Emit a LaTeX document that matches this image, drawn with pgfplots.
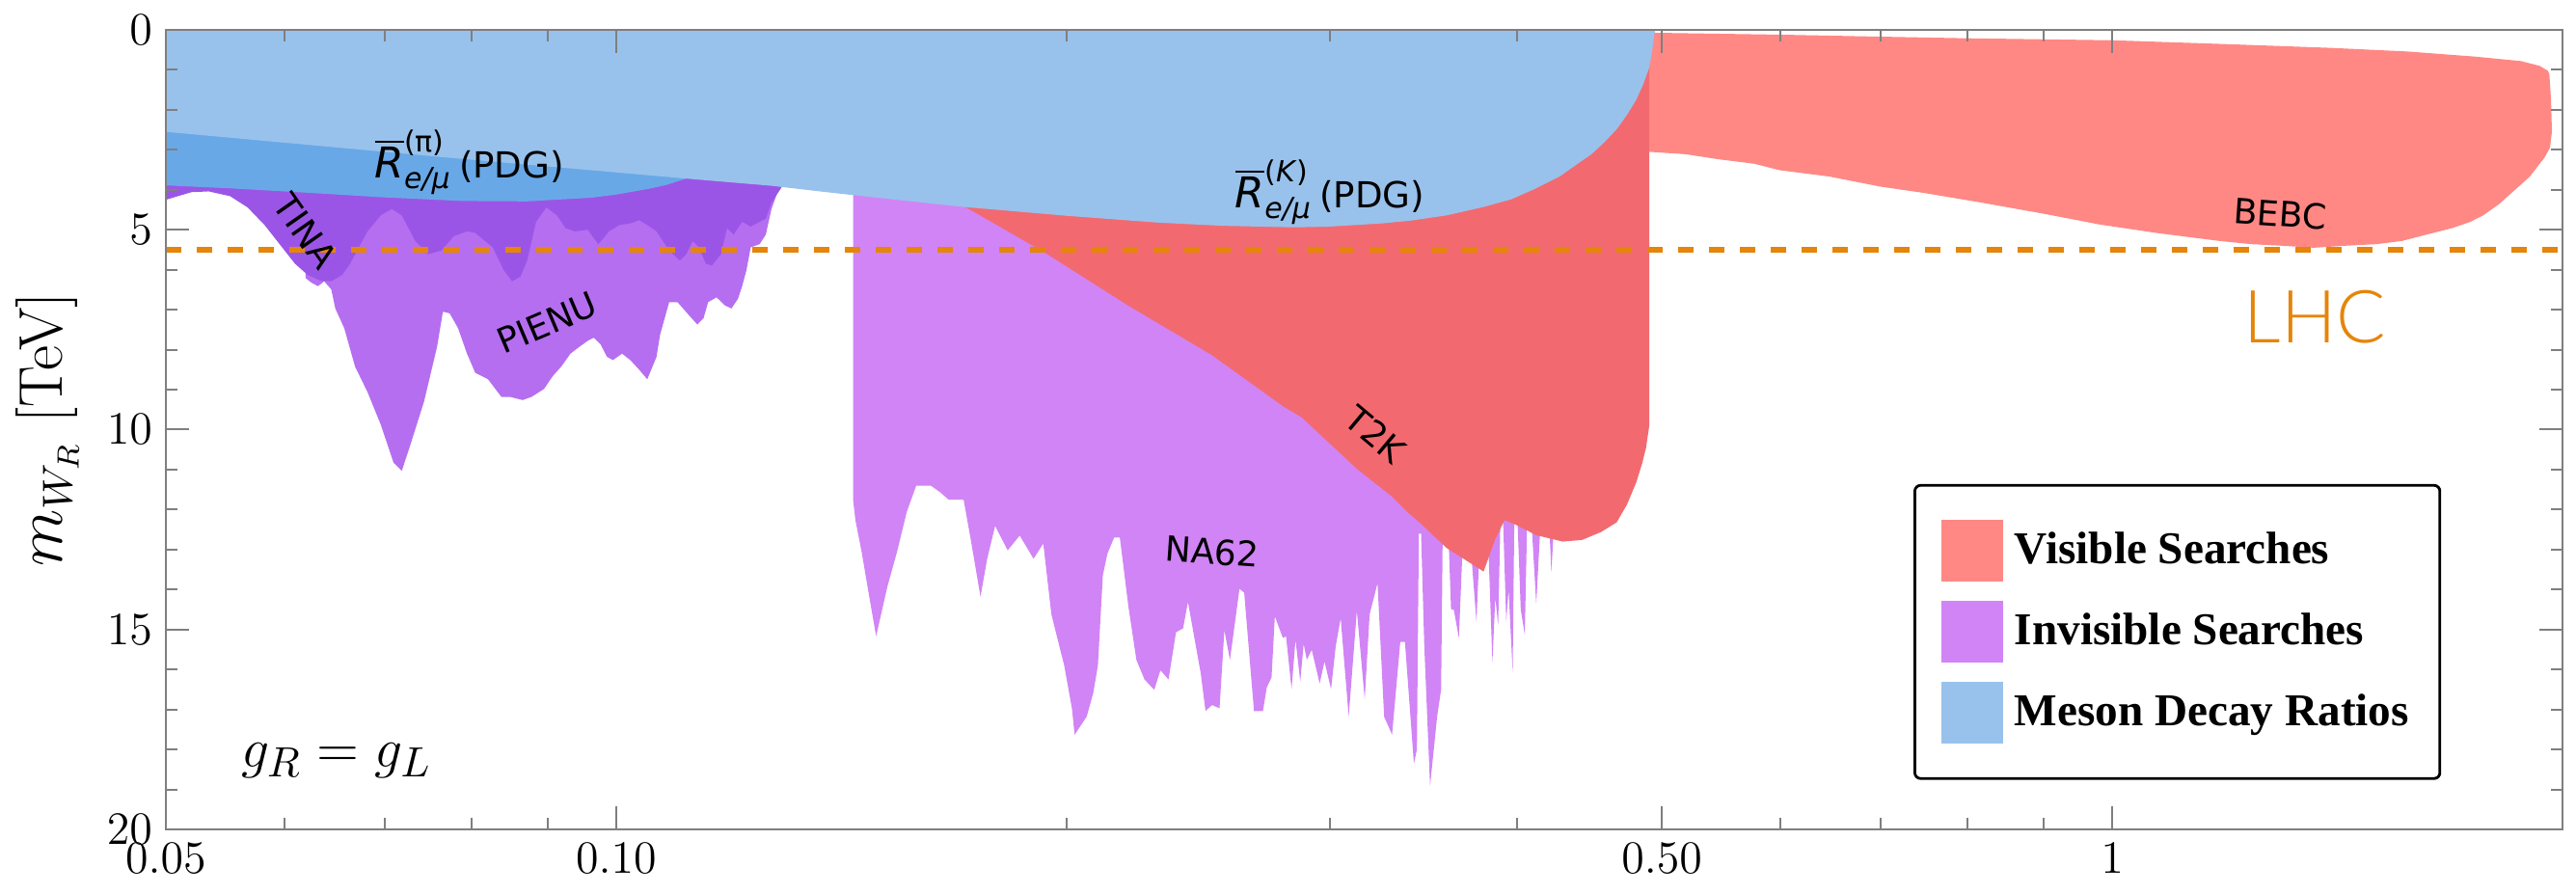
\documentclass[border=0pt]{standalone}
\usepackage{fontspec}
\newfontfamily\legfont{Liberation Serif}
\newfontfamily\lab{DejaVu Sans}
\newfontfamily\lhcfont{Lato Light}
\usepackage{pgfplots}
\pgfplotsset{compat=1.18}
\definecolor{bebc}{HTML}{FF8884}
\definecolor{t2k}{HTML}{F26A70}
\definecolor{na62}{HTML}{D184F5}
\definecolor{pienu}{HTML}{B56EF0}
\definecolor{tina}{HTML}{9B55E6}
\definecolor{pibl}{HTML}{69A8E7}
\definecolor{kbl}{HTML}{98C2EC}
\definecolor{lhc}{HTML}{E5850A}
\definecolor{axgray}{HTML}{7F7F7F}
\newcommand{\Rlab}[1]{{\lab\fontsize{11}{13}\selectfont$\overline{\hbox{\lab\itshape R}}^{\hbox{\lab\fontsize{7.5}{9}\selectfont #1}}_{\hbox{\lab\itshape\fontsize{7.5}{9}\selectfont e/μ}}$\,{\fontsize{9.3}{11}\selectfont(PDG)}}}
\begin{document}
\begin{tikzpicture}
\path[use as bounding box] (-43pt,-16.75pt) rectangle (624.75pt,215pt);
\begin{axis}[
 scale only axis, width=621.25pt, height=207.25pt,
 at={(0,0)}, anchor=south west,
 xmode=log, xmin=0.05, xmax=2,
 ymin=0, ymax=20, y dir=reverse,
 xtick={0.05,0.1,0.5,1}, xticklabels={$0.05$,$0.10$,$0.50$,$1$},
 minor xtick={0.06,0.07,0.08,0.09,0.2,0.3,0.4,0.6,0.7,0.8,0.9},
 ytick={0,5,10,15,20},
 minor ytick={1,2,3,4,6,7,8,9,11,12,13,14,16,17,18,19},
 tick align=inside, major tick length=6pt, minor tick length=3pt,
 every tick/.style={axgray, line width=0.5pt},
 axis line style={axgray, line width=0.6pt},
 ticklabel style={font=\fontsize{13}{15}\selectfont},
 axis on top,
 ylabel={$m_{W_R}$ [TeV]},
 ylabel style={at={(axis description cs:-0.0495,0.5)}, anchor=center, font=\fontsize{16}{18}\selectfont},
 legend cell align=left,
 legend style={at={(0.7292,0.432)}, anchor=north west, draw=black, line width=0.7pt, rounded corners=1.5pt,
   inner xsep=7pt, inner ysep=9pt, row sep=5pt, nodes={inner sep=1pt, text depth=0.15em},
   font=\legfont\bfseries\fontsize{11.8}{13}\selectfont},
 legend image code/.code={\fill[#1, draw=none, sharp corners] (0pt,-8pt) rectangle (16pt,8pt); \path (17.5pt,0pt);},
]
% BEBC
\addplot[fill=bebc, draw=none, forget plot] coordinates {
(0.4904,0.07) (0.60,0.12) (0.70,0.17) (0.80,0.21) (1.0,0.26) (1.2,0.36) (1.4,0.45) (1.575,0.54) (1.75,0.67) (1.876,0.78) (1.931,0.90) (1.955,1.02) (1.960,1.10) (1.965,1.74) (1.968,2.55) (1.962,2.95) (1.945,3.20) (1.931,3.35) (1.902,3.67) (1.849,4.08) (1.814,4.36) (1.770,4.64) (1.736,4.80) (1.687,4.96) (1.623,5.12) (1.562,5.28) (1.502,5.36) (1.431,5.40) (1.364,5.45) (1.299,5.40) (1.238,5.36) (1.1795,5.28) (1.0708,5.08) (0.9813,4.87) (0.9001,4.60) (0.8175,4.32) (0.7488,4.08) (0.6998,3.92) (0.6474,3.67) (0.5993,3.51) (0.5766,3.35) (0.5441,3.23) (0.5187,3.11) (0.4904,3.05)
} -- cycle;
% NA62
\addplot[fill=na62, draw=none, forget plot] coordinates {
(0.1440,0) (0.1440,11.75) (0.1445,12.26) (0.1459,13.05) (0.1474,14.03) (0.1492,15.17) (0.1518,13.93) (0.1541,13.05) (0.1564,12.06) (0.1587,11.40) (0.1623,11.40) (0.1647,11.57) (0.1668,11.75) (0.1707,11.75) (0.1726,12.75) (0.1752,14.18) (0.1770,13.24) (0.1792,12.41) (0.1827,13.02) (0.1861,12.65) (0.1901,13.23) (0.1930,12.85) (0.1954,14.62) (0.1993,15.90) (0.2017,16.99) (0.2025,17.63) (0.2063,17.18) (0.2084,16.59) (0.2099,15.90) (0.2115,13.64) (0.2130,13.10) (0.2152,12.70) (0.2171,12.70) (0.2200,14.43) (0.2227,15.76) (0.2255,16.25) (0.2289,16.51) (0.2311,16.02) (0.2340,16.25) (0.2367,15.07) (0.2393,14.97) (0.2411,14.31) (0.2435,15.21) (0.2459,16.10) (0.2477,17.04) (0.2502,16.89) (0.2531,16.97) (0.2550,15.02) (0.2572,15.76) (0.2610,13.98) (0.2629,14.08) (0.2669,17.04) (0.2706,17.04) (0.2722,16.45) (0.2742,16.20) (0.2756,14.67) (0.2790,15.21) (0.2804,15.17) (0.2828,16.49) (0.2845,15.26) (0.2866,16.30) (0.2881,15.36) (0.2895,15.76) (0.2917,15.51) (0.2953,16.35) (0.2975,15.80) (0.3005,16.49) (0.3027,15.41) (0.3050,14.72) (0.3088,17.18) (0.3127,14.53) (0.3165,16.74) (0.3189,14.62) (0.3228,13.84) (0.3261,17.18) (0.3301,17.63) (0.3343,15.31) (0.3367,15.31) (0.3414,18.36) (0.3430,18.0) (0.3440,12.6) (0.3452,12.6) (0.3469,15.41) (0.3500,18.91) (0.3538,17.18) (0.3560,16.5) (0.3568,12.8) (0.3600,12.6) (0.3615,14.5) (0.3630,14.5) (0.3659,15.21) (0.3681,12.8) (0.3727,13.0) (0.3745,14.0) (0.3759,14.81) (0.3775,13.2) (0.3829,13.0) (0.3853,15.82) (0.3870,14.2) (0.3887,14.9) (0.3900,12.3) (0.3916,12.2) (0.3936,14.8) (0.3950,14.0) (0.3975,16.06) (0.3985,12.3) (0.4004,12.3) (0.4024,14.5) (0.4049,15.13) (0.4063,12.4) (0.4094,12.5) (0.4121,14.37) (0.4145,12.6) (0.4207,12.6) (0.4218,13.57) (0.4232,12.6) (0.4250,12.0) (0.4250,0)
} -- cycle;
% T2K
\addplot[fill=t2k, draw=none, forget plot] coordinates {
(0.1697,0) (0.1697,4.35) (0.1934,5.57) (0.220,6.90) (0.250,8.13) (0.279,9.41) (0.2874,9.70) (0.3127,10.98) (0.330,11.67) (0.3384,12.08) (0.345,12.35) (0.359,12.96) (0.3801,13.55) (0.3868,12.76) (0.3926,12.26) (0.4004,12.40) (0.4121,12.64) (0.4292,12.80) (0.4422,12.76) (0.4554,12.56) (0.4664,12.32) (0.4738,11.88) (0.4808,11.31) (0.4852,10.83) (0.4880,10.45) (0.4904,9.9) (0.4904,0)
} -- cycle;
% PIENU
\addplot[fill=pienu, draw=none, forget plot] coordinates {
(0.0620,0) (0.0620,6.21) (0.0626,6.33) (0.0632,6.41) (0.0638,6.29) (0.0645,6.49) (0.0649,6.97) (0.0658,7.46) (0.0669,8.42) (0.0682,9.06) (0.0696,9.87) (0.0710,10.83) (0.0719,11.03) (0.0729,10.35) (0.0744,9.30) (0.0759,7.94) (0.0766,7.05) (0.0774,7.09) (0.0784,7.46) (0.0795,8.10) (0.0805,8.58) (0.0821,8.74) (0.0838,9.18) (0.0849,9.18) (0.0866,9.26) (0.0878,9.18) (0.0895,8.98) (0.0907,8.66) (0.0919,8.42) (0.0932,8.10) (0.0944,7.94) (0.0957,7.78) (0.0966,7.70) (0.0976,7.86) (0.0986,8.18) (0.0995,8.26) (0.1009,8.10) (0.1022,8.26) (0.1036,8.50) (0.1049,8.74) (0.1064,8.18) (0.1070,7.62) (0.1085,6.81) (0.1099,6.81) (0.1118,7.13) (0.1133,7.37) (0.1144,7.21) (0.1152,6.81) (0.1167,6.69) (0.1182,6.89) (0.1194,6.97) (0.1206,6.73) (0.1214,6.41) (0.1222,6.01) (0.1230,5.44) (0.1247,5.36) (0.1259,5.12) (0.1270,4.48) (0.1285,3.95) (0.1285,0)
} -- cycle;
% TINA
\addplot[fill=tina, draw=none, forget plot] coordinates {
(0.05,0) (0.05,4.25) (0.0520,4.06) (0.0534,4.04) (0.0552,4.16) (0.0567,4.44) (0.0582,4.88) (0.0598,5.44) (0.0610,5.85) (0.0622,6.13) (0.0634,6.27) (0.0645,6.29) (0.0656,6.13) (0.0664,5.85) (0.0673,5.44) (0.0682,5.04) (0.0696,4.64) (0.0708,4.48) (0.0719,4.64) (0.0734,5.28) (0.0749,5.61) (0.0764,5.52) (0.0779,5.16) (0.0795,5.04) (0.0805,5.08) (0.0827,5.44) (0.0841,6.01) (0.0852,6.29) (0.0863,6.17) (0.0872,5.77) (0.0884,4.80) (0.0898,4.44) (0.0913,4.64) (0.0925,4.96) (0.0938,5.04) (0.0957,5.00) (0.0973,5.36) (0.0989,5.04) (0.1005,4.88) (0.1022,4.84) (0.1036,4.76) (0.1049,4.88) (0.1064,5.04) (0.1085,5.52) (0.1103,5.77) (0.1114,5.61) (0.1125,5.28) (0.1136,5.44) (0.1148,5.85) (0.1159,5.89) (0.1175,5.61) (0.1186,4.96) (0.1198,5.12) (0.1214,4.80) (0.1230,4.92) (0.1247,4.80) (0.1259,4.72) (0.1270,4.32) (0.1292,3.90) (0.1292,0)
} -- cycle;
% pi ratio
\addplot[fill=pibl, draw=none, forget plot] coordinates {
(0.05,0) (0.05,3.89) (0.055,3.96) (0.0626,4.08) (0.070,4.19) (0.0789,4.28) (0.0871,4.29) (0.0961,4.20) (0.100,4.12) (0.105,3.98) (0.108,3.88) (0.1114,3.72) (0.115,3.5) (0.115,0)
} -- cycle;
% K ratio
\addplot[fill=kbl, draw=none, forget plot] coordinates {
(0.05,0) (0.05,2.55) (0.0764,3.18) (0.1114,3.72) (0.127,3.90) (0.1368,4.04) (0.143,4.12) (0.1697,4.42) (0.200,4.65) (0.230,4.82) (0.254,4.90) (0.2845,4.94) (0.300,4.92) (0.3253,4.84) (0.340,4.77) (0.359,4.64) (0.380,4.43) (0.3965,4.24) (0.410,4.0) (0.4271,3.67) (0.440,3.33) (0.4487,3.11) (0.4580,2.80) (0.4668,2.47) (0.4740,2.12) (0.4808,1.74) (0.4860,1.35) (0.4904,0.94) (0.4925,0.55) (0.4941,0.14) (0.4950,0)
} -- cycle;
% LHC
\addplot[lhc, line width=1.7pt, dash pattern=on 4pt off 4pt, forget plot] coordinates {(0.05,5.5) (2,5.5)};
% labels
\node[font=\lab\fontsize{9}{11}\selectfont, rotate=-55, inner sep=0pt] at (axis cs:0.0620,5.04) {TINA};
\node[font=\lab\fontsize{9}{11}\selectfont, rotate=23, inner sep=0pt] at (axis cs:0.0899,7.33) {PIENU};
\node[font=\lab\fontsize{9}{11}\selectfont, rotate=-4, inner sep=0pt] at (axis cs:0.2502,13.05) {NA62};
\node[font=\lab\fontsize{9}{11}\selectfont, rotate=-40, inner sep=0pt] at (axis cs:0.3217,10.11) {T2K};
\node[font=\lab\fontsize{9}{11}\selectfont, rotate=-4, inner sep=0pt] at (axis cs:1.295,4.60) {BEBC};
\node[text=lhc, font=\lhcfont\fontsize{19}{21}\selectfont] at (axis cs:1.366,7.19) {LHC};
\node[font=\fontsize{15}{17}\selectfont] at (axis cs:0.0650,18.29) {$g_R = g_L$};
\node[inner sep=0pt] at (axis cs:0.0798,3.31) {\Rlab{(π)}};
\node[inner sep=0pt] at (axis cs:0.300,4.05) {\Rlab{(\textit{K})}};
% legend
\addlegendimage{fill=bebc}
\addlegendentry{Visible Searches}
\addlegendimage{fill=na62}
\addlegendentry{Invisible Searches}
\addlegendimage{fill=kbl}
\addlegendentry{Meson Decay Ratios}
\end{axis}
\end{tikzpicture}
\end{document}
